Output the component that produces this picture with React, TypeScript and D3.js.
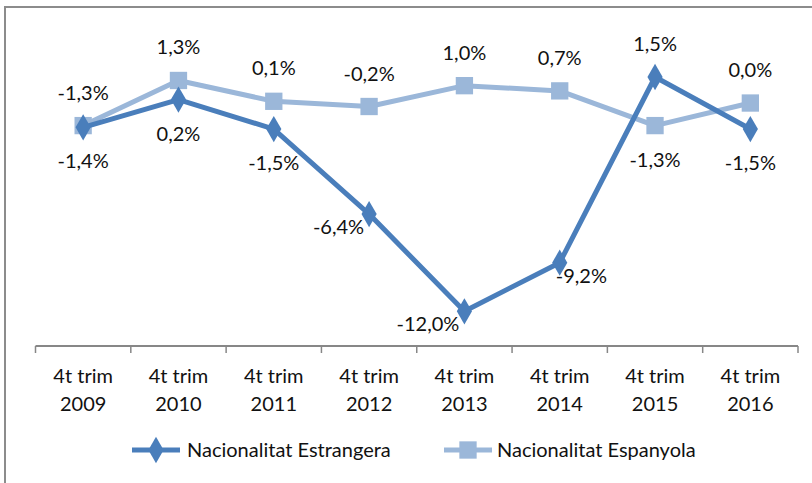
import { useEffect, useRef } from 'react';
import * as d3 from 'd3';

const categories = ['2009', '2010', '2011', '2012', '2013', '2014', '2015', '2016'];
const estrangera = [-1.4, 0.2, -1.5, -6.4, -12.0, -9.2, 1.5, -1.5];
const espanyola = [-1.3, 1.3, 0.1, -0.2, 1.0, 0.7, -1.3, 0.0];
const seriesNames = ['Nacionalitat Estrangera', 'Nacionalitat Espanyola'];
// where each value label sits relative to its point
const estrangeraPos = ['below', 'below', 'below', 'left', 'left', 'right', 'above', 'below'];
const espanyolaPos = ['above', 'above', 'above', 'above', 'above', 'above', 'below', 'above'];

const DARK = '#4A7EBB';
const LIGHT = '#9BB7D9';
const FONT = 'Lato, "Open Sans", sans-serif';
const FS = 20;

const fmt = (v: number) => v.toFixed(1).replace('.', ',') + '%';

function App() {
  const ref = useRef<SVGSVGElement>(null);

  useEffect(() => {
    const svg = d3.select(ref.current);
    svg.selectAll('*').remove();

    // frame
    svg.append('rect')
      .attr('x', 5).attr('y', 7).attr('width', 830).attr('height', 500)
      .attr('fill', 'white').attr('stroke', '#8c8c8c').attr('stroke-width', 2);

    const x = d3.scaleBand().domain(categories).range([35.5, 798]);
    const y = d3.scaleLinear().domain([-14, 1.5]).range([346, 77]);
    const cx = (c: string) => (x(c) as number) + x.bandwidth() / 2;

    // x axis
    const axis = svg.append('g').attr('transform', `translate(0,${y(-14)})`);
    axis.append('line')
      .attr('x1', 35.5).attr('x2', 798).attr('stroke', '#878787').attr('stroke-width', 2);
    axis.selectAll('line.tick')
      .data([...categories.map((c) => x(c) as number), 798])
      .enter().append('line')
      .attr('x1', (d) => d).attr('x2', (d) => d).attr('y1', 0).attr('y2', 7)
      .attr('stroke', '#878787').attr('stroke-width', 1.5);
    const lbl = axis.selectAll('text.cat').data(categories).enter().append('text')
      .attr('x', (d) => cx(d)).attr('text-anchor', 'middle')
      .attr('font-family', FONT).attr('font-size', FS).attr('fill', '#111');
    lbl.append('tspan').attr('x', (d) => cx(d)).attr('y', 37).text('4t trim');
    lbl.append('tspan').attr('x', (d) => cx(d)).attr('y', 65).text((d) => d);

    const line = d3.line<number>()
      .x((_, i) => cx(categories[i]))
      .y((d) => y(d));

    const diamond = d3.symbol().type(d3.symbolDiamond).size(200);
    const square = d3.symbol().type(d3.symbolSquare).size(300);

    const drawSeries = (vals: number[], color: string, sym: any, pos: string[]) => {
      svg.append('path').datum(vals).attr('d', line)
        .attr('fill', 'none').attr('stroke', color).attr('stroke-width', 5)
        .attr('stroke-linejoin', 'round');
      svg.selectAll(null).data(vals).enter().append('path')
        .attr('d', sym)
        .attr('transform', (d, i) => `translate(${cx(categories[i])},${y(d)})`)
        .attr('fill', color);
      svg.selectAll(null).data(vals).enter().append('text')
        .attr('x', (d, i) => {
          const p = pos[i];
          return cx(categories[i]) + (p === 'left' ? -5 : p === 'right' ? -4 : 0);
        })
        .attr('y', (d, i) => {
          const p = pos[i];
          return y(d) + (p === 'above' ? -26 : p === 'below' ? 41 : 20);
        })
        .attr('text-anchor', (d, i) => pos[i] === 'left' ? 'end' : pos[i] === 'right' ? 'start' : 'middle')
        .attr('font-family', FONT).attr('font-size', FS).attr('fill', '#111')
        .text((d) => fmt(d));
    };

    drawSeries(espanyola, LIGHT, square, espanyolaPos);
    drawSeries(estrangera, DARK, diamond, estrangeraPos);

    // legend
    const legend = [
      { name: seriesNames[0], color: DARK, sym: diamond, x0: 132, tx: 187 },
      { name: seriesNames[1], color: LIGHT, sym: square, x0: 444, tx: 497 },
    ];
    const lg = svg.selectAll('g.legend').data(legend).enter().append('g');
    lg.append('line')
      .attr('x1', (d) => d.x0).attr('x2', (d) => d.x0 + 48)
      .attr('y1', 450).attr('y2', 450)
      .attr('stroke', (d) => d.color).attr('stroke-width', 5);
    lg.append('path')
      .attr('d', (d) => d.sym())
      .attr('transform', (d) => `translate(${d.x0 + 24},450)`)
      .attr('fill', (d) => d.color);
    lg.append('text')
      .attr('x', (d) => d.tx).attr('y', 457)
      .attr('font-family', FONT).attr('font-size', FS).attr('fill', '#111')
      .text((d) => d.name);
  }, []);

  return (
    <svg ref={ref} width={812} height={483}
      style={{ position: 'fixed', left: 0, top: 0, display: 'block', background: 'white' }} />
  );
}

export default App;
